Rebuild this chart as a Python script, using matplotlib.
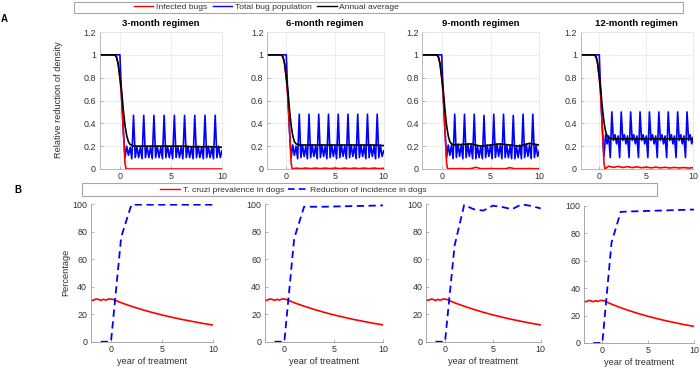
import numpy as np
import matplotlib.pyplot as plt
from matplotlib.patches import Rectangle
from matplotlib.lines import Line2D

plt.rcParams['font.family'] = ['Liberation Sans', 'DejaVu Sans']

W, H = 700, 370

regimens = ['3-month regimen', '6-month regimen', '9-month regimen', '12-month regimen']

# ---- panel A: bug densities ----
# total bug population, sampled every 2 months from year -2 to 10
t_bugs = np.arange(-24, 121, 2) / 12

total_3m = [1, 1, 1, 1, 1, 1, 1, 1, 1, 1, 1, 1, 1,
            0.62, 0.33, 0.1, 0.2, 0.12, 0.19, 0.09,
            0.47, 0.1, 0.2, 0.1, 0.19, 0.09,
            0.47, 0.1, 0.2, 0.1, 0.19, 0.09,
            0.47, 0.1, 0.2, 0.1, 0.19, 0.09,
            0.47, 0.1, 0.2, 0.1, 0.19, 0.09,
            0.47, 0.1, 0.2, 0.1, 0.19, 0.09,
            0.47, 0.1, 0.2, 0.1, 0.19, 0.09,
            0.47, 0.1, 0.2, 0.1, 0.19, 0.09,
            0.47, 0.1, 0.2, 0.1, 0.19, 0.09,
            0.47, 0.1, 0.2, 0.1, 0.16]
total_6m = [1, 1, 1, 1, 1, 1, 1, 1, 1, 1, 1, 1, 1,
            0.62, 0.33, 0.1, 0.21, 0.12, 0.2, 0.09,
            0.48, 0.1, 0.21, 0.11, 0.2, 0.09,
            0.48, 0.1, 0.21, 0.11, 0.2, 0.09,
            0.48, 0.1, 0.21, 0.11, 0.2, 0.09,
            0.48, 0.1, 0.21, 0.11, 0.2, 0.09,
            0.48, 0.1, 0.21, 0.11, 0.2, 0.09,
            0.48, 0.1, 0.21, 0.11, 0.2, 0.09,
            0.48, 0.1, 0.21, 0.11, 0.2, 0.09,
            0.48, 0.1, 0.21, 0.11, 0.2, 0.09,
            0.48, 0.1, 0.21, 0.11, 0.16]
total_9m = [1, 1, 1, 1, 1, 1, 1, 1, 1, 1, 1, 1, 1,
            0.62, 0.33, 0.1, 0.21, 0.12, 0.21, 0.09,
            0.48, 0.1, 0.22, 0.11, 0.21, 0.09,
            0.48, 0.1, 0.22, 0.11, 0.21, 0.09,
            0.48, 0.09, 0.2, 0.1, 0.2, 0.09,
            0.47, 0.1, 0.21, 0.11, 0.21, 0.09,
            0.48, 0.1, 0.22, 0.11, 0.21, 0.09,
            0.48, 0.1, 0.21, 0.1, 0.2, 0.09,
            0.47, 0.09, 0.2, 0.1, 0.21, 0.09,
            0.48, 0.1, 0.22, 0.11, 0.21, 0.09,
            0.48, 0.1, 0.21, 0.11, 0.16]
total_12m = [1, 1, 1, 1, 1, 1, 1, 1, 1, 1, 1, 1, 1,
             0.62, 0.33, 0.11, 0.3, 0.22, 0.29, 0.1,
             0.5, 0.25, 0.3, 0.22, 0.29, 0.1,
             0.5, 0.25, 0.3, 0.22, 0.29, 0.1,
             0.5, 0.25, 0.3, 0.22, 0.29, 0.1,
             0.5, 0.25, 0.3, 0.22, 0.29, 0.1,
             0.5, 0.25, 0.3, 0.22, 0.29, 0.1,
             0.5, 0.25, 0.3, 0.22, 0.29, 0.1,
             0.5, 0.25, 0.3, 0.22, 0.29, 0.1,
             0.5, 0.25, 0.3, 0.22, 0.29, 0.1,
             0.5, 0.25, 0.3, 0.22, 0.28]

# annual average of the bug population
t_avg = [-2, -0.5, -0.33, -0.17, 0, 0.17, 0.33, 0.5, 0.67, 0.83, 1, 1.33,
         2, 3, 4, 5, 6, 7, 8, 9, 10]
avg_3m = [1, 1, 0.98, 0.92, 0.8, 0.68, 0.52, 0.38, 0.29, 0.24, 0.215, 0.2,
          0.2, 0.2, 0.2, 0.2, 0.2, 0.195, 0.195, 0.195, 0.19]
avg_6m = [1, 1, 0.98, 0.92, 0.8, 0.68, 0.52, 0.38, 0.29, 0.24, 0.22, 0.21,
          0.21, 0.21, 0.21, 0.21, 0.21, 0.21, 0.21, 0.21, 0.205]
avg_9m = [1, 1, 0.98, 0.92, 0.8, 0.68, 0.52, 0.38, 0.29, 0.24, 0.22, 0.21,
          0.215, 0.22, 0.2, 0.21, 0.22, 0.21, 0.2, 0.225, 0.21]
avg_12m = [1, 1, 0.98, 0.92, 0.8, 0.68, 0.53, 0.41, 0.33, 0.29, 0.275, 0.265,
           0.265, 0.265, 0.265, 0.265, 0.265, 0.265, 0.265, 0.265, 0.265]

# infected bugs
t_inf = [-2, -0.5, -0.33, -0.17, 0, 0.17, 0.33, 0.5, 0.6,
         1, 1.5, 2, 2.5, 3, 3.5, 4, 4.5, 5, 5.5, 6, 6.5, 7, 7.5, 8, 8.5, 9, 9.5, 10]
inf_3m = [1, 1, 0.98, 0.92, 0.8, 0.62, 0.35, 0.05, 0,
          0, 0, 0, 0, 0, 0, 0, 0, 0, 0, 0, 0, 0, 0, 0, 0, 0, 0, 0]
inf_6m = [1, 1, 0.98, 0.92, 0.8, 0.62, 0.35, 0.05, 0,
          0.008, 0.003, 0.008, 0.003, 0.008, 0.003, 0.008, 0.003, 0.008, 0.003,
          0.008, 0.003, 0.008, 0.003, 0.008, 0.003, 0.008, 0.003, 0.006]
inf_9m = [1, 1, 0.98, 0.92, 0.8, 0.62, 0.35, 0.05, 0,
          0.003, 0.002, 0.004, 0.002, 0.004, 0.015, 0.003, 0.002, 0.004, 0.002,
          0.003, 0.002, 0.012, 0.002, 0.003, 0.002, 0.004, 0.002, 0.003]
inf_12m = [1, 1, 0.98, 0.92, 0.8, 0.62, 0.35, 0.05, 0,
           0.025, 0.014, 0.023, 0.013, 0.021, 0.012, 0.019, 0.011, 0.017, 0.01,
           0.016, 0.01, 0.015, 0.009, 0.014, 0.009, 0.013, 0.008, 0.012]

# ---- panel B: dogs ----
t_prev = [-2, -1.75, -1.5, -1.25, -1, -0.75, -0.5, -0.25, 0, 0.25, 0.5,
          1, 2, 3, 4, 5, 6, 7, 8, 9, 10]
prev_3m = [30.5, 30, 31, 30.8, 30, 30.8, 30.2, 31, 31, 30.6, 29.8,
           28.3, 25.7, 23.4, 21.3, 19.4, 17.7, 16.1, 14.7, 13.3, 12.1]
prev_6m = [30.5, 30, 31, 30.8, 30, 30.8, 30.2, 31, 31, 30.6, 29.8,
           28.3, 25.8, 23.5, 21.4, 19.5, 17.8, 16.2, 14.8, 13.4, 12.2]
prev_9m = [30.5, 30, 31, 30.8, 30, 30.8, 30.2, 31, 31, 30.6, 29.8,
           28.3, 25.8, 23.5, 21.4, 19.5, 17.8, 16.2, 14.8, 13.4, 12.2]
prev_12m = [30.5, 30, 31, 30.8, 30, 30.8, 30.2, 31, 31, 30.6, 29.8,
            28.3, 25.7, 23.4, 21.3, 19.4, 17.7, 16.1, 14.7, 13.3, 12.1]

t_inc = [-1, 0, 1, 2, 3, 4, 5, 6, 7, 8, 9, 10]
inc_3m = [0, 0, 76, 99.5, 99.5, 99.5, 99.5, 99.5, 99.5, 99.5, 99.5, 99.5]
inc_6m = [0, 0, 75, 98, 98, 98, 98.2, 98.3, 98.5, 98.6, 98.8, 99]
inc_9m = [0, 0, 70, 99.5, 96.4, 95.4, 99, 98, 96.4, 100, 98.8, 97]
inc_12m = [0, 0, 73, 95.5, 95.8, 96, 96.2, 96.4, 96.6, 96.8, 97, 97.2]

totals = [total_3m, total_6m, total_9m, total_12m]
avgs = [avg_3m, avg_6m, avg_9m, avg_12m]
infs = [inf_3m, inf_6m, inf_9m, inf_12m]
prevs = [prev_3m, prev_6m, prev_9m, prev_12m]
incs = [inc_3m, inc_6m, inc_9m, inc_12m]

# axes boxes in pixels: left, top, right, bottom
top_boxes = [(99.5, 32, 222, 169), (266.8, 32, 383.7, 169),
             (422.2, 32, 539.3, 169), (580.5, 32, 693.3, 169)]
bot_boxes = [(90.6, 204, 213, 341.7), (264.6, 204, 383, 341.7),
             (425.9, 204.3, 540.7, 341.7), (584, 205.7, 694, 343)]

TXT = '#303030'
SP = '#9a9a9a'


def px_axes(fig, box):
    l, t, r, b = box
    return fig.add_axes([l / W, 1 - b / H, (r - l) / W, (b - t) / H])


def style(ax):
    ax.tick_params(direction='in', length=2.5, width=0.5, colors=SP,
                   labelcolor=TXT, labelsize=6.4, pad=2.5)
    ax.set_xlim(-2, 10)
    ax.set_xticks([0, 5, 10])


fig = plt.figure(figsize=(W / 100, H / 100), dpi=100)

for i in range(4):
    ax = px_axes(fig, top_boxes[i])
    ax.plot(t_bugs, totals[i], color='#0000ff', lw=1.2)
    ax.plot(t_inf, infs[i], color='#ff0000', lw=1.2)
    ax.plot(t_avg, avgs[i], color='black', lw=1.2)
    style(ax)
    ax.set_ylim(0, 1.2)
    ax.set_yticks([0, 0.2, 0.4, 0.6, 0.8, 1, 1.2])
    ax.set_yticklabels(['0', '0.2', '0.4', '0.6', '0.8', '1', '1.2'])
    ax.grid(True, color='#e6e6e6', lw=0.5)
    ax.set_axisbelow(True)
    for s in ['left', 'bottom']:
        ax.spines[s].set_color('#b0b0b0')
        ax.spines[s].set_linewidth(0.6)
    for s in ['top', 'right']:
        ax.spines[s].set_color('#e6e6e6')
        ax.spines[s].set_linewidth(0.6)
    ax.set_title(regimens[i], fontsize=6.8, fontweight='bold', color='black', pad=4)

for i in range(4):
    ax = px_axes(fig, bot_boxes[i])
    ax.plot(t_prev, prevs[i], color='#ff0000', lw=1.2)
    ax.plot(t_inc, incs[i], color='#0000ff', lw=1.3, dashes=(4, 2.5))
    style(ax)
    ax.set_ylim(0, 100)
    ax.set_yticks([0, 20, 40, 60, 80, 100])
    for s in ['top', 'right']:
        ax.spines[s].set_visible(False)
    for s in ['left', 'bottom']:
        ax.spines[s].set_color(SP)
        ax.spines[s].set_linewidth(0.6)
    ax.set_xlabel('year of treatment', fontsize=6.7, color=TXT, labelpad=2)

# y labels
fig.text(58.5 / W, 1 - 100 / H, 'Relative reduction of density', rotation=90,
         ha='center', va='center', fontsize=6.7, color=TXT)
fig.text(66 / W, 1 - 272 / H, 'Percentage', rotation=90,
         ha='center', va='center', fontsize=6.7, color=TXT)

# panel letters
fig.text(4.5 / W, 1 - 19.5 / H, 'A', ha='center', va='center', fontsize=7, fontweight='bold')
fig.text(18 / W, 1 - 190.5 / H, 'B', ha='center', va='center', fontsize=7, fontweight='bold')

# legends (MATLAB-style stretched boxes)
fig.add_artist(Rectangle((74 / W, 1 - 13.3 / H), (683 - 74) / W, 11.6 / H,
                         transform=fig.transFigure, fill=False, ec='#a6a6a6', lw=0.8))
h_top = [Line2D([], [], color='#ff0000', lw=1.0),
         Line2D([], [], color='#0000ff', lw=1.0),
         Line2D([], [], color='black', lw=1.0)]
fig.legend(h_top, ['Infected bugs', 'Total bug population', 'Annual average'],
           loc='center', bbox_to_anchor=(266.5 / W, 1 - 7.5 / H), ncol=3, frameon=False,
           fontsize=6.1, handlelength=2.3, handletextpad=0.3, columnspacing=0.7,
           borderpad=0, borderaxespad=0, labelcolor=TXT)

fig.add_artist(Rectangle((81.7 / W, 1 - 196 / H), (657.3 - 81.7) / W, 12.7 / H,
                         transform=fig.transFigure, fill=False, ec='#a6a6a6', lw=0.8))
h_bot = [Line2D([], [], color='#ff0000', lw=1.0),
         Line2D([], [], color='#0000ff', lw=1.2, dashes=(4, 2.5))]
fig.legend(h_bot, ['T. cruzi prevalence in dogs', 'Reduction of incidence in dogs'],
           loc='center', bbox_to_anchor=(293.5 / W, 1 - 189.7 / H), ncol=2, frameon=False,
           fontsize=6.1, handlelength=2.3, handletextpad=0.3, columnspacing=0.5,
           borderpad=0, borderaxespad=0, labelcolor=TXT)

fig.savefig('out.png', dpi=100)
